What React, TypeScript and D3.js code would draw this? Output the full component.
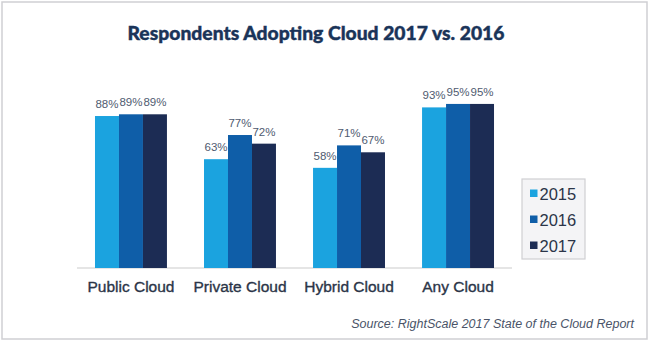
import React from "react";
import * as d3 from "d3";

const categories = ["Public Cloud", "Private Cloud", "Hybrid Cloud", "Any Cloud"];
const years = ["2015", "2016", "2017"];
const values2015 = [88, 63, 58, 93];
const values2016 = [89, 77, 71, 95];
const values2017 = [89, 72, 67, 95];
const seriesValues = [values2015, values2016, values2017];
const colors = ["#1ba3df", "#0f5ea8", "#1c2c54"];

const W = 650;
const H = 341;

export default function App() {
  const x = d3.scaleBand<string>().domain(categories).range([77, 512]).paddingInner(0.34).paddingOuter(0.165);
  const xs = d3.scaleBand<string>().domain(years).range([0, x.bandwidth()]).padding(0);
  const y = d3.scaleLinear().domain([0, 100]).range([268, 95.3]);
  const font = "'Liberation Sans', Arial, Helvetica, sans-serif";

  return (
    <div style={{ position: "absolute", left: 0, top: 0 }}>
      <svg width={W} height={H} style={{ display: "block" }}>
        <rect x={0} y={0} width={W} height={H} fill="#ffffff" />
        <rect x={2} y={2} width={645} height={337} fill="none" stroke="#cfcfd3" strokeWidth={1.5} />
        <text
          x={316}
          y={40}
          textAnchor="middle"
          fontFamily="Lato, 'Open Sans', sans-serif"
          fontWeight={900}
          fontSize={18.5}
          fill="#1a3459"
          stroke="#1a3459"
          strokeWidth={0.4}
          textLength={377}
          lengthAdjust="spacingAndGlyphs"
        >
          Respondents Adopting Cloud 2017 vs. 2016
        </text>
        <line x1={77} x2={512} y1={268} y2={268} stroke="#dcdcdc" strokeWidth={1.5} />
        {categories.map((c, ci) => (
          <g key={c} transform={`translate(${x(c)},0)`}>
            {years.map((yr, si) => {
              const v = seriesValues[si][ci];
              const bx = xs(yr) as number;
              return (
                <g key={yr}>
                  <rect x={bx} y={y(v)} width={xs.bandwidth()} height={268 - y(v)} fill={colors[si]} />
                  <text
                    x={bx + xs.bandwidth() / 2}
                    y={y(v) - 8}
                    textAnchor="middle"
                    fontFamily={font}
                    fontSize={11.5}
                    fill="#4f5b70"
                  >
                    {v}%
                  </text>
                </g>
              );
            })}
            <text
              x={x.bandwidth() / 2}
              y={292}
              textAnchor="middle"
              fontFamily={font}
              fontSize={15.5}
              fill="#2b3548"
              stroke="#2b3548"
              strokeWidth={0.35}
            >
              {c}
            </text>
          </g>
        ))}
        <rect x={522} y={179} width={63} height={80} fill="#f4f4f6" stroke="#cfcfd3" strokeWidth={1.2} />
        {years.map((yr, i) => (
          <g key={yr} transform={`translate(0,${i * 26})`}>
            <rect x={530} y={189.5} width={7.5} height={7.5} fill={colors[i]} />
            <text x={539.5} y={199.5} fontFamily={font} fontSize={16.5} fill="#2b3548">
              {yr}
            </text>
          </g>
        ))}
        <text
          x={634}
          y={327.5}
          textAnchor="end"
          fontFamily={font}
          fontStyle="italic"
          fontSize={12.5}
          fill="#4a5468"
        >
          Source: RightScale 2017 State of the Cloud Report
        </text>
      </svg>
    </div>
  );
}
